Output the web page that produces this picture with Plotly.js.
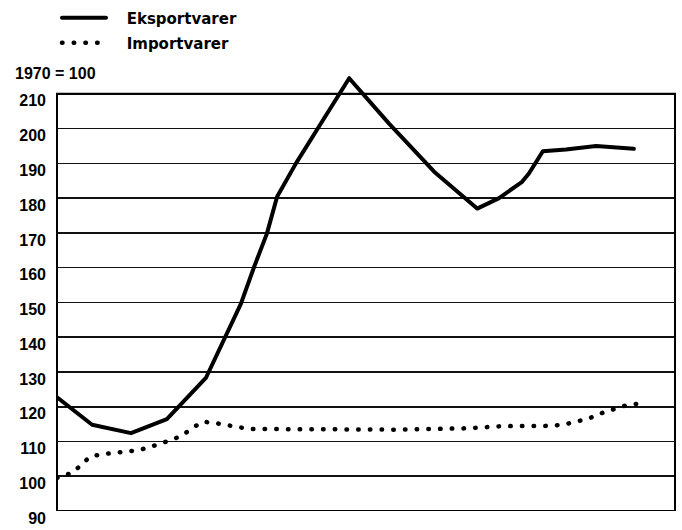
<!DOCTYPE html>
<html>
<head>
<meta charset="utf-8">
<script src="https://cdn.plot.ly/plotly-3.0.1.min.js"></script>
<style>
html,body{margin:0;padding:0;background:#fff;}
#chart{width:682px;height:530px;}
#chart path.js-line{stroke-linecap:round;stroke-linejoin:round;}
</style>
</head>
<body>
<div id="chart"></div>
<script>
// Time in quarters from start of 1970 (x positions)
const exportT = [0, 0.93, 1.96, 2.91, 3.95, 4.87, 5.22, 5.56, 5.83, 6.33, 6.94, 7.74, 8.79, 9.99, 11.13, 11.71, 12.32, 12.5, 12.87, 13.48, 14.28, 15.28];
const exportV = [122.7, 114.8, 112.4, 116.4, 128.4, 149.6, 160.2, 169.8, 180.4, 190, 200.6, 214.5, 201.5, 187.6, 177.0, 180, 184.7, 187.1, 193.5, 194, 195, 194.2];

const importT = [0, 0.40, 0.64, 0.87, 1.17, 1.85, 2.17, 2.49, 3.10, 3.36, 3.60, 3.87, 4.19, 4.77, 5.09, 9.06, 10.91, 11.79, 13.11, 13.48, 13.77, 14.09, 14.38, 15.05, 15.34];
const importV = [99.5, 101, 103.2, 105.6, 106.3, 107, 107.5, 108.5, 110.7, 112.1, 114, 115.7, 115.3, 114.2, 113.6, 113.4, 113.8, 114.4, 114.5, 115, 115.8, 116.6, 118, 120.3, 120.8];

const yTicks = [90, 100, 110, 120, 130, 140, 150, 160, 170, 180, 190, 200, 210];
const seriesNames = ['Eksportvarer', 'Importvarer'];
const indexNote = '1970 = 100';

const font = 'Liberation Sans, Arial, sans-serif';
const legendFont = {family: 'DejaVu Sans, sans-serif', size: 15, color: '#000', weight: 'bold'};
const pad = '\u00a0\u00a0\u00a0';

const traces = [
  {x: exportT, y: exportV, name: pad + seriesNames[0], mode: 'lines', type: 'scatter',
   line: {color: '#000', width: 4}, legend: 'legend'},
  {x: importT, y: importV, name: pad + seriesNames[1], mode: 'lines', type: 'scatter',
   line: {color: '#000', width: 4.5, dash: '0.5px,11.2px'}, legend: 'legend2'}
];

const yMin = yTicks[0], yMax = yTicks[yTicks.length - 1];

const layout = {
  width: 682, height: 530,
  margin: {l: 57, r: 7, t: 73, b: 19, autoexpand: false},
  paper_bgcolor: '#fff', plot_bgcolor: '#fff',
  showlegend: true,
  legend: {x: 0, xanchor: 'left', y: 1.1256, yanchor: 'middle',
           font: legendFont, bgcolor: 'rgba(0,0,0,0)', itemwidth: 44},
  legend2: {x: 0, xanchor: 'left', y: 1.0685, yanchor: 'middle',
           font: legendFont, bgcolor: 'rgba(0,0,0,0)', itemwidth: 44},
  xaxis: {range: [0, 16.37], showgrid: false, zeroline: false, showticklabels: false,
          ticks: '', showline: false, fixedrange: true},
  yaxis: {range: [yMin, 216], tickvals: yTicks, ticktext: yTicks.map(String),
          showgrid: true, gridcolor: '#111', gridwidth: 1.6, zeroline: false,
          showline: false, ticks: '', ticklabelstandoff: 10, ticklabelshift: 7,
          tickfont: {family: font, size: 16, color: '#000', weight: 'bold'}, fixedrange: true},
  shapes: [
    {type: 'rect', xref: 'paper', yref: 'y', x0: 0, x1: 1, y0: yMin, y1: yMax,
     line: {color: '#000', width: 2}, fillcolor: 'rgba(0,0,0,0)', layer: 'above'}
  ],
  annotations: [
    {text: indexNote, xref: 'paper', yref: 'paper', x: -0.072, xanchor: 'left',
     y: 1.0, yanchor: 'middle', showarrow: false,
     font: {family: font, size: 16, color: '#000', weight: 'bold'}}
  ]
};

Plotly.newPlot('chart', traces, layout, {displayModeBar: false, staticPlot: true});
</script>
</body>
</html>
